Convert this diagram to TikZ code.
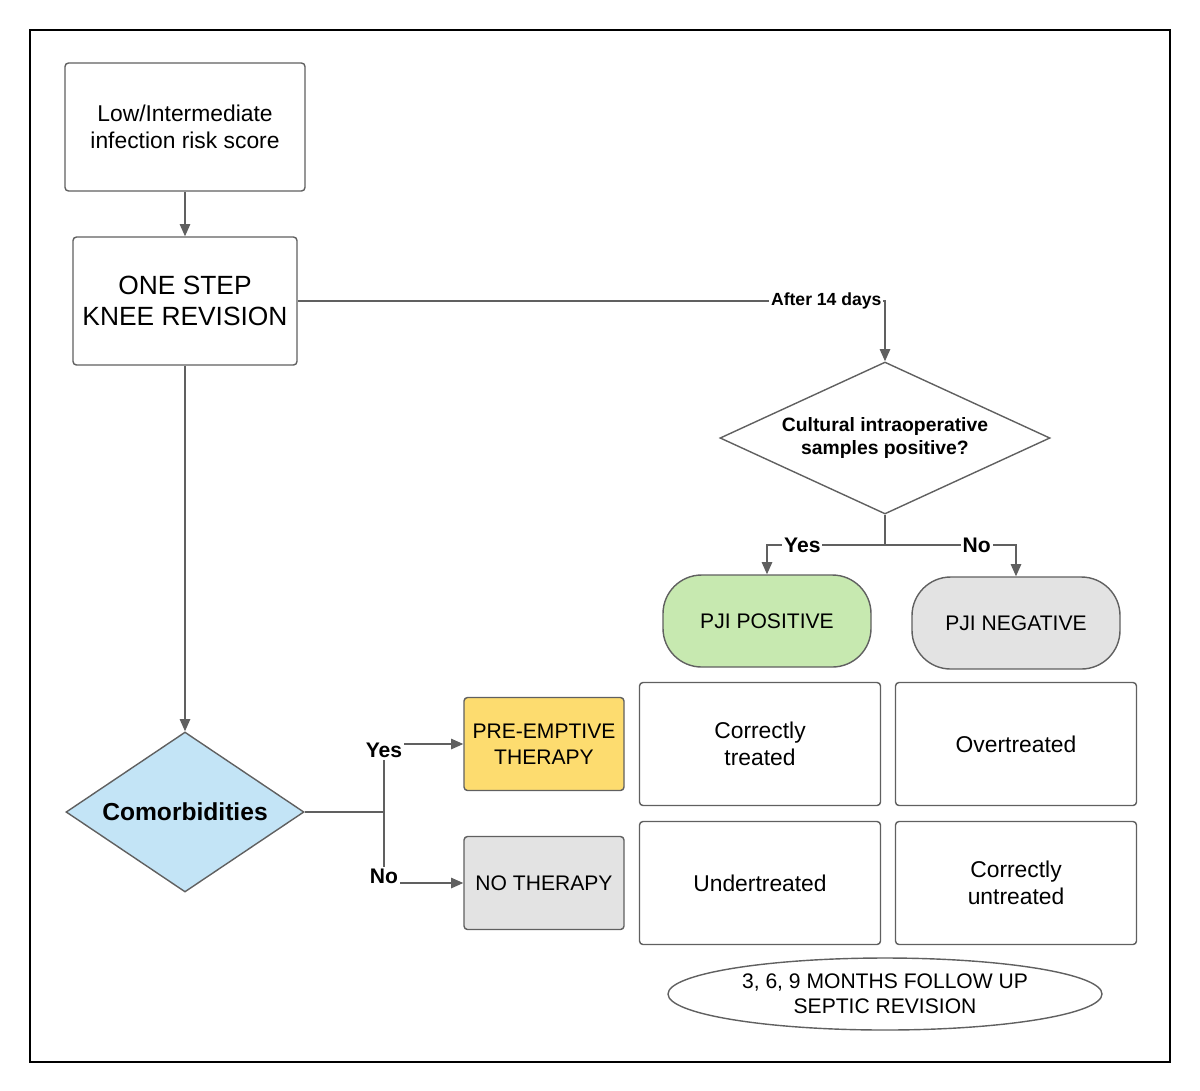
\documentclass[tikz,border=0pt]{standalone}
\usepackage{fontspec}
\setmainfont{Liberation Sans}
\usetikzlibrary{positioning, shapes.geometric, arrows.meta}

\definecolor{posgreen}{HTML}{C7E9B0}
\definecolor{negray}{HTML}{E3E3E3}
\definecolor{comblue}{HTML}{C3E4F6}
\definecolor{preyellow}{HTML}{FDDC6F}

\begin{document}
\begin{tikzpicture}[
  x=0.02cm, y=-0.02cm,
  >={Triangle[length=7pt,width=6pt]},
  line/.style={draw=gray!75!black, thick},
  box/.style={draw=gray!75!black, thick, rounded corners=2pt, align=center,
    font=\fontsize{13}{15.5}\selectfont, inner sep=0pt},
  pill/.style={box, rounded corners=22pt},
  lbl/.style={font=\fontsize{10}{12}\selectfont\bfseries, fill=white, inner sep=1pt}
]
\useasboundingbox (0,0) rectangle (1200,1090);
\draw[thick] (30,30) rectangle (1170,1062);

% Main column
\node[box, minimum width=240*0.02cm, minimum height=128*0.02cm] (risk) at (185,127) {Low/Intermediate\\infection risk score};
\node[box, minimum width=224*0.02cm, minimum height=128*0.02cm, font=\fontsize{15}{18}\selectfont] (revision) at (185,301) {ONE STEP\\KNEE REVISION};
\node[diamond, draw=gray!75!black, thick, fill=comblue, minimum width=238*0.02cm, minimum height=160*0.02cm, aspect=1.5, inner sep=0pt] (comorb) at (185,812) {};
\node[font=\fontsize{14}{17}\selectfont\bfseries] at (comorb) {Comorbidities};

% Therapy boxes
\node[box, fill=preyellow, minimum width=160*0.02cm, minimum height=93*0.02cm, font=\fontsize{12}{14.5}\selectfont] (pre) at (544,744) {PRE-EMPTIVE\\THERAPY};
\node[box, fill=negray, minimum width=160*0.02cm, minimum height=93*0.02cm, font=\fontsize{12}{14.5}\selectfont] (nothe) at (544,883) {NO THERAPY};

% Culture branch
\node[diamond, draw=gray!75!black, thick, minimum width=330*0.02cm, minimum height=152*0.02cm, inner sep=0pt] (cult) at (885,438) {};
\node[align=center, font=\fontsize{11}{13.5}\selectfont\bfseries] at (cult) {Cultural intraoperative\\samples positive?};
\node[pill, fill=posgreen, minimum width=208*0.02cm, minimum height=92*0.02cm, font=\fontsize{12}{14.5}\selectfont] (pos) at (767,621) {PJI POSITIVE};
\node[pill, fill=negray, minimum width=208*0.02cm, minimum height=92*0.02cm, font=\fontsize{12}{14.5}\selectfont] (neg) at (1016,623) {PJI NEGATIVE};

% Outcome grid
\node[box, minimum width=241*0.02cm, minimum height=123*0.02cm] (ctreat) at (760,744) {Correctly\\treated};
\node[box, minimum width=241*0.02cm, minimum height=123*0.02cm] (over) at (1016,744) {Overtreated};
\node[box, minimum width=241*0.02cm, minimum height=123*0.02cm] (under) at (760,883) {Undertreated};
\node[box, minimum width=241*0.02cm, minimum height=123*0.02cm] (cuntreat) at (1016,883) {Correctly\\untreated};
\node[ellipse, draw=gray!75!black, thick, minimum width=434*0.02cm, minimum height=72*0.02cm, inner sep=0pt] (follow) at (885,994) {};
\node[align=center, font=\fontsize{12}{14}\selectfont] at (follow) {3, 6, 9 MONTHS FOLLOW UP\\SEPTIC REVISION};

% Connectors
\draw[line, ->] (risk) -- (revision);
\draw[line, ->] (revision.east) -| node[lbl, pos=0.45] {After 14 days} (cult.north);
\draw[line, ->] (revision) -- (comorb.north);
\coordinate (split) at (885,545);
\draw[line] (cult.south) -- (split);
\draw[line, ->] (split) -| node[lbl, pos=0.35, font=\fontsize{12}{14}\selectfont\bfseries] {Yes} (pos.north);
\draw[line, ->] (split) -| node[lbl, pos=0.35, font=\fontsize{12}{14}\selectfont\bfseries] {No} (neg.north);
\coordinate (fork) at (384,812);
\draw[line] (comorb.east) -- (fork);
\draw[line, ->] (fork) |- node[lbl, pos=0.45, font=\fontsize{12}{14}\selectfont\bfseries] {Yes} (pre.west);
\draw[line, ->] (fork) |- node[lbl, pos=0.45, font=\fontsize{12}{14}\selectfont\bfseries] {No} (nothe.west);
\end{tikzpicture}
\end{document}
